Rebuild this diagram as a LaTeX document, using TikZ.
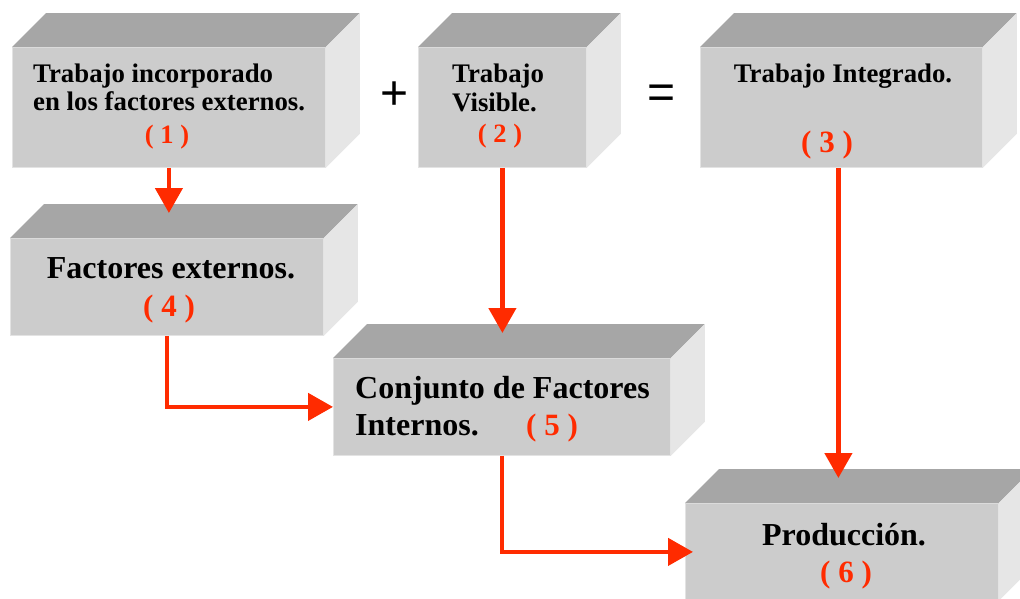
\documentclass[tikz,border=0pt]{standalone}
\usepackage{fontspec}
\setmainfont{Liberation Serif}
\newfontfamily\signos{Liberation Sans}
\usetikzlibrary{arrows.meta,positioning,calc}
\definecolor{Frente}{HTML}{CCCCCC}
\definecolor{Tapa}{HTML}{A6A6A6}
\definecolor{Lado}{HTML}{E6E6E6}
\definecolor{Rojo}{HTML}{FF2B00}

\begin{document}
\begin{tikzpicture}[x=1pt,y=-1pt,
        caja/.style={fill=Frente,draw=Frente!55!white,line width=.8pt,anchor=north west,inner sep=0pt},
        chica/.style={caja,minimum height=120pt},
        grande/.style={caja,minimum height=97pt},
        txt/.style={anchor=base west,inner sep=0pt,font=\fontsize{26.8}{28}\selectfont\bfseries},
        txtg/.style={anchor=base west,inner sep=0pt,font=\fontsize{32}{36}\selectfont\bfseries},
        num/.style={anchor=base,inner sep=0pt,text=Rojo,font=\fontsize{26.5}{28}\selectfont\bfseries},
        numg/.style={anchor=base,inner sep=0pt,text=Rojo,font=\fontsize{31}{34}\selectfont\bfseries},
        signo/.style={inner sep=0pt,font=\fontsize{48}{50}\selectfont\signos},
        flecha/.style={draw=Rojo,line width=4.5pt,-{Triangle[length=25pt,width=27pt]}}]
        \useasboundingbox (0,0) rectangle (1020,598);
        % cara frontal de cada caja
        \node[chica,minimum width=313pt] (b1) at (12,47) {};
        \node[chica,minimum width=168pt] (b2) at (418,47) {};
        \node[chica,minimum width=282pt] (b3) at (700,47) {};
        \node[grande,minimum width=313pt] (b4) at (10,238) {};
        \node[grande,minimum width=337pt] (b5) at (333,358) {};
        \node[grande,minimum width=313pt] (b6) at (685,503) {};
        % tapa y lado
        \foreach \c in {b1,b2,b3,b4,b5,b6}{
          \fill[Tapa] (\c.north west) -- ++(34,-34) -- ([shift={(34,-34)}]\c.north east) -- (\c.north east) -- cycle;
          \fill[Lado] (\c.north east) -- ++(34,-34) -- ([shift={(34,-34)}]\c.south east) -- (\c.south east) -- cycle;
        }
        % textos
        \node[txt] (t1a) at (33,82) {Trabajo incorporado};
        \node[txt] (t1b) at (33,110) {en los factores externos.};
        \node[num] (n1) at (167,143) {( 1 )};
        \node[txt] (t2a) at (452,82) {Trabajo};
        \node[txt] (t2b) at (452,111) {Visible.};
        \node[num] (n2) at (500,142) {( 2 )};
        \node[txt,anchor=base] (t3) at (843,82) {Trabajo Integrado.};
        \node[numg] (n3) at (827,152) {( 3 )};
        \node[txtg,anchor=base] (t4) at (171,278) {Factores externos.};
        \node[numg] (n4) at (169,316) {( 4 )};
        \node[txtg] (t5a) at (355,398) {Conjunto de Factores};
        \node[txtg] (t5b) at (355,435) {Internos.};
        \node[numg] (n5) at (552,435) {( 5 )};
        \node[txtg,anchor=base] (t6) at (844,545) {Producción.};
        \node[numg] (n6) at (846,582) {( 6 )};
        \node[signo] (mas) at (395,96) {+};
        \node[signo] (igual) at (662,97) {=};
        % flechas
        \draw[flecha] (b1.south) -- ($(b1.south |- b4.north)+(0,-25)$);
        \draw[flecha] (b2.south) -- ($(b2.south |- b5.north)+(0,-25)$);
        \draw[flecha] ([xshift=-3pt]b3.south) -- ($([xshift=-3pt]b3.south |- b6.north)+(0,-25)$);
        \draw[flecha] (b4.south) |- (b5.west);
        \draw[flecha] (b5.south) |- ($(b6.west)+(8,0)$);
\end{tikzpicture}
\end{document}
